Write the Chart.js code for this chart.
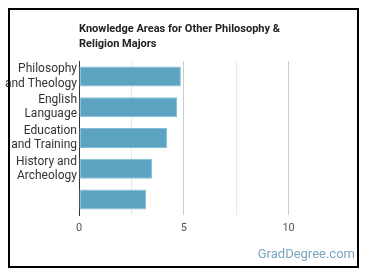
<!DOCTYPE html>
<html>
<head>
<meta charset="utf-8">
<script src="https://cdn.jsdelivr.net/npm/chart.js@4"></script>
<style>
  html, body { margin: 0; padding: 0; background: #fff; }
  #wrap { position: relative; width: 370px; height: 278px; overflow: hidden; }
  #frame { position: absolute; left: 8px; top: 8px; width: 347px; height: 256px; border: 2px solid #000; box-sizing: content-box; pointer-events: none; }
  #title { position: absolute; left: 79px; top: 21px; font: bold 11px Roboto, sans-serif; line-height: 15px; color: #222; }
  #mark { position: absolute; right: 15px; top: 246px; font: 13px Roboto, sans-serif; color: #7aa6bf; }
  canvas { position: absolute; left: 0; top: 0; }
</style>
</head>
<body>
<div id="wrap">
  <canvas id="c" width="370" height="278"></canvas>
  <div id="frame"></div>
  <div id="title">Knowledge Areas for Other Philosophy &amp;<br>Religion Majors</div>
  <div id="mark">GradDegree.com</div>
</div>
<script>
const categories = [
  ['Philosophy', 'and Theology'],
  ['English', 'Language'],
  ['Education', 'and Training'],
  ['History and', 'Archeology'],
  ''
];
const values = [4.86, 4.68, 4.21, 3.49, 3.20];
const tickLabels = ['0', '5', '10'];
const labelledTicks = [0, 5, 10];

new Chart(document.getElementById('c'), {
  type: 'bar',
  data: {
    labels: categories,
    datasets: [{
      data: values,
      backgroundColor: '#5ba3c1',
      borderColor: '#84bdd4',
      borderWidth: 1,
      borderSkipped: false,
      barPercentage: 0.65,
      categoryPercentage: 1
    }]
  },
  options: {
    indexAxis: 'y',
    responsive: false,
    animation: false,
    devicePixelRatio: 1,
    layout: { padding: { left: 0, top: 61, right: 29, bottom: 33 } },
    plugins: { legend: { display: false }, title: { display: false }, tooltip: { enabled: false } },
    scales: {
      x: {
        min: 0,
        max: 12.5,
        afterFit: s => { s.height = 30; },
        border: { display: false },
        grid: {
          drawTicks: false,
          color: ctx => {
            const v = ctx.tick ? ctx.tick.value : 0;
            if (v >= 12.5) return 'rgba(0,0,0,0)';
            return (v % 5 === 0) ? '#cccccc' : '#e8e8e8';
          }
        },
        ticks: {
          stepSize: 2.5,
          autoSkip: false,
          maxRotation: 0,
          padding: 7,
          color: '#555',
          font: { family: 'Roboto', size: 11 },
          callback: v => {
            const i = labelledTicks.indexOf(v);
            return i >= 0 ? tickLabels[i] : '';
          }
        }
      },
      y: {
        afterFit: s => { s.width = 79; },
        border: { display: true, color: '#333', width: 1 },
        grid: { display: false, drawTicks: false },
        ticks: {
          autoSkip: false,
          padding: 2,
          color: '#333',
          font: { family: 'Roboto', size: 12, lineHeight: 1.2 }
        }
      }
    }
  }
});
</script>
</body>
</html>
